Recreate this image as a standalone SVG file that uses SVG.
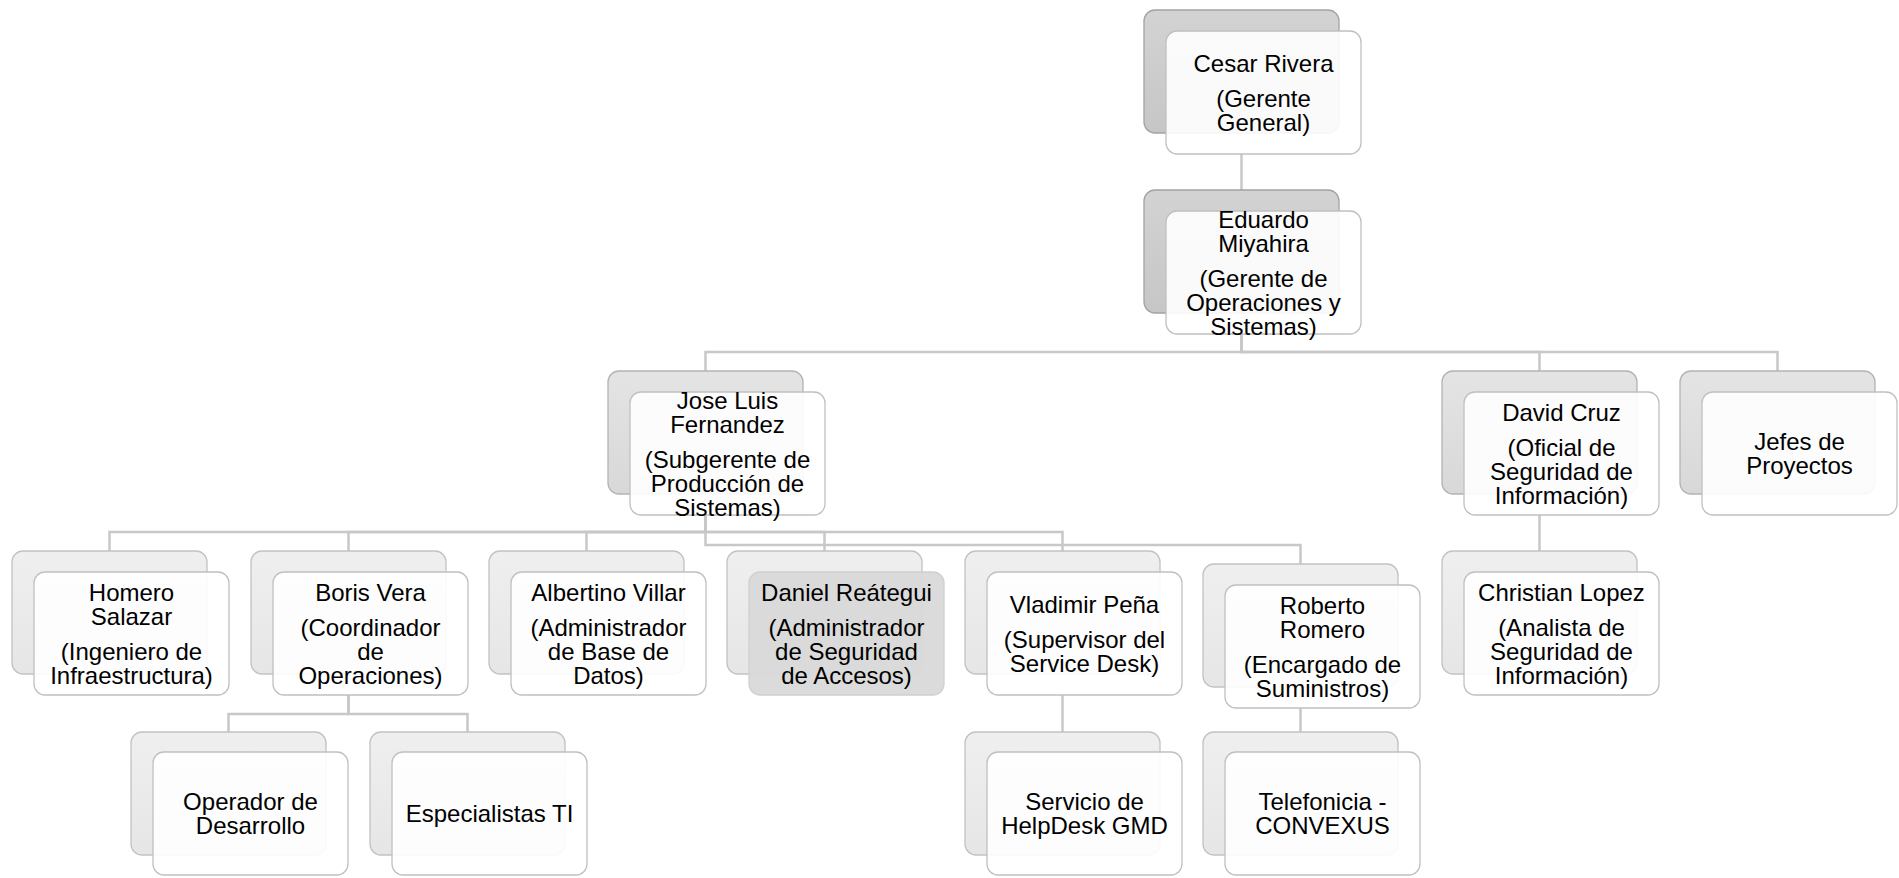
<svg xmlns="http://www.w3.org/2000/svg" width="1899" height="878" viewBox="0 0 1899 878">
<defs>
<linearGradient id="g1" x1="0" y1="0" x2="0" y2="1"><stop offset="0" stop-color="#d3d3d3"/><stop offset="1" stop-color="#c6c6c6"/></linearGradient>
<linearGradient id="g2" x1="0" y1="0" x2="0" y2="1"><stop offset="0" stop-color="#e4e4e4"/><stop offset="1" stop-color="#d8d8d8"/></linearGradient>
<linearGradient id="g3" x1="0" y1="0" x2="0" y2="1"><stop offset="0" stop-color="#efefef"/><stop offset="1" stop-color="#e6e6e6"/></linearGradient>
</defs>
<style>
.b1{fill:url(#g1);stroke:#a3a3a3;stroke-width:1.3}
.b2{fill:url(#g2);stroke:#b3b3b3;stroke-width:1.3}
.b3{fill:url(#g3);stroke:#c2c2c2;stroke-width:1.3}
.f{fill:#ffffff;fill-opacity:0.9;stroke:#c0c0c0;stroke-width:1.3}
.fd{fill:#d9d9d9;fill-opacity:0.95;stroke:#d0d0d0;stroke-width:1.3}
.c{fill:none;stroke:#c8c8c8;stroke-width:2.5}
text{font-family:"Liberation Sans",Arial,sans-serif;font-size:24px;fill:#000;text-anchor:middle}
</style>
<rect width="1899" height="878" fill="#ffffff"/>
<g id="connectors">
<path class="c" d="M1241.5 154V190"/>
<path class="c" d="M1241.5 334V352H705.5V371"/>
<path class="c" d="M1241.5 334V352H1539.5V371"/>
<path class="c" d="M1241.5 334V352H1777.5V371"/>
<path class="c" d="M705.5 515V532H109.5V551"/>
<path class="c" d="M705.5 515V532H348.5V551"/>
<path class="c" d="M705.5 515V532H586.5V551"/>
<path class="c" d="M705.5 515V532H824.5V551"/>
<path class="c" d="M705.5 515V532H1062.5V551"/>
<path class="c" d="M705.5 515V545H1300.5V564"/>
<path class="c" d="M348.5 695V714H228.5V732"/>
<path class="c" d="M348.5 695V714H467.5V732"/>
<path class="c" d="M1062.5 695V732"/>
<path class="c" d="M1300.5 708V732"/>
<path class="c" d="M1539.5 515V551"/>
</g>
<g id="cesar">
<rect class="b1" x="1144" y="10" width="195" height="123" rx="11"/>
<rect class="f" x="1166" y="31" width="195" height="123" rx="11"/>
<text x="1263.5" y="71.6">Cesar Rivera</text>
<text x="1263.5" y="106.6">(Gerente</text>
<text x="1263.5" y="130.6">General)</text>
</g>
<g id="eduardo">
<rect class="b1" x="1144" y="190" width="195" height="123" rx="11"/>
<rect class="f" x="1166" y="211" width="195" height="123" rx="11"/>
<text x="1263.5" y="227.6">Eduardo</text>
<text x="1263.5" y="251.6">Miyahira</text>
<text x="1263.5" y="286.6">(Gerente de</text>
<text x="1263.5" y="310.6">Operaciones y</text>
<text x="1263.5" y="334.6">Sistemas)</text>
</g>
<g id="jose">
<rect class="b2" x="608" y="371" width="195" height="123" rx="11"/>
<rect class="f" x="630" y="392" width="195" height="123" rx="11"/>
<text x="727.5" y="408.6">Jose Luis</text>
<text x="727.5" y="432.6">Fernandez</text>
<text x="727.5" y="467.6">(Subgerente de</text>
<text x="727.5" y="491.6">Producción de</text>
<text x="727.5" y="515.6">Sistemas)</text>
</g>
<g id="david">
<rect class="b2" x="1442" y="371" width="195" height="123" rx="11"/>
<rect class="f" x="1464" y="392" width="195" height="123" rx="11"/>
<text x="1561.5" y="420.6">David Cruz</text>
<text x="1561.5" y="455.6">(Oficial de</text>
<text x="1561.5" y="479.6">Seguridad de</text>
<text x="1561.5" y="503.6">Información)</text>
</g>
<g id="jefes">
<rect class="b2" x="1680" y="371" width="195" height="123" rx="11"/>
<rect class="f" x="1702" y="392" width="195" height="123" rx="11"/>
<text x="1799.5" y="450.1">Jefes de</text>
<text x="1799.5" y="474.1">Proyectos</text>
</g>
<g id="homero">
<rect class="b3" x="12" y="551" width="195" height="123" rx="11"/>
<rect class="f" x="34" y="572" width="195" height="123" rx="11"/>
<text x="131.5" y="600.6">Homero</text>
<text x="131.5" y="624.6">Salazar</text>
<text x="131.5" y="659.6">(Ingeniero de</text>
<text x="131.5" y="683.6">Infraestructura)</text>
</g>
<g id="boris">
<rect class="b3" x="251" y="551" width="195" height="123" rx="11"/>
<rect class="f" x="273" y="572" width="195" height="123" rx="11"/>
<text x="370.5" y="600.6">Boris Vera</text>
<text x="370.5" y="635.6">(Coordinador</text>
<text x="370.5" y="659.6">de</text>
<text x="370.5" y="683.6">Operaciones)</text>
</g>
<g id="albertino">
<rect class="b3" x="489" y="551" width="195" height="123" rx="11"/>
<rect class="f" x="511" y="572" width="195" height="123" rx="11"/>
<text x="608.5" y="600.6">Albertino Villar</text>
<text x="608.5" y="635.6">(Administrador</text>
<text x="608.5" y="659.6">de Base de</text>
<text x="608.5" y="683.6">Datos)</text>
</g>
<g id="daniel">
<rect class="b3" x="727" y="551" width="195" height="123" rx="11"/>
<rect class="fd" x="749" y="572" width="195" height="123" rx="11"/>
<text x="846.5" y="600.6">Daniel Reátegui</text>
<text x="846.5" y="635.6">(Administrador</text>
<text x="846.5" y="659.6">de Seguridad</text>
<text x="846.5" y="683.6">de Accesos)</text>
</g>
<g id="vladimir">
<rect class="b3" x="965" y="551" width="195" height="123" rx="11"/>
<rect class="f" x="987" y="572" width="195" height="123" rx="11"/>
<text x="1084.5" y="612.6">Vladimir Peña</text>
<text x="1084.5" y="647.6">(Supervisor del</text>
<text x="1084.5" y="671.6">Service Desk)</text>
</g>
<g id="roberto">
<rect class="b3" x="1203" y="564" width="195" height="123" rx="11"/>
<rect class="f" x="1225" y="585" width="195" height="123" rx="11"/>
<text x="1322.5" y="613.6">Roberto</text>
<text x="1322.5" y="637.6">Romero</text>
<text x="1322.5" y="672.6">(Encargado de</text>
<text x="1322.5" y="696.6">Suministros)</text>
</g>
<g id="christian">
<rect class="b3" x="1442" y="551" width="195" height="123" rx="11"/>
<rect class="f" x="1464" y="572" width="195" height="123" rx="11"/>
<text x="1561.5" y="600.6">Christian Lopez</text>
<text x="1561.5" y="635.6">(Analista de</text>
<text x="1561.5" y="659.6">Seguridad de</text>
<text x="1561.5" y="683.6">Información)</text>
</g>
<g id="operador">
<rect class="b3" x="131" y="732" width="195" height="123" rx="11"/>
<rect class="f" x="153" y="752" width="195" height="123" rx="11"/>
<text x="250.5" y="810.1">Operador de</text>
<text x="250.5" y="834.1">Desarrollo</text>
</g>
<g id="especialistas">
<rect class="b3" x="370" y="732" width="195" height="123" rx="11"/>
<rect class="f" x="392" y="752" width="195" height="123" rx="11"/>
<text x="489.5" y="822.1">Especialistas TI</text>
</g>
<g id="servicio">
<rect class="b3" x="965" y="732" width="195" height="123" rx="11"/>
<rect class="f" x="987" y="752" width="195" height="123" rx="11"/>
<text x="1084.5" y="810.1">Servicio de</text>
<text x="1084.5" y="834.1">HelpDesk GMD</text>
</g>
<g id="telefonica">
<rect class="b3" x="1203" y="732" width="195" height="123" rx="11"/>
<rect class="f" x="1225" y="752" width="195" height="123" rx="11"/>
<text x="1322.5" y="810.1">Telefonicia -</text>
<text x="1322.5" y="834.1">CONVEXUS</text>
</g>
</svg>
